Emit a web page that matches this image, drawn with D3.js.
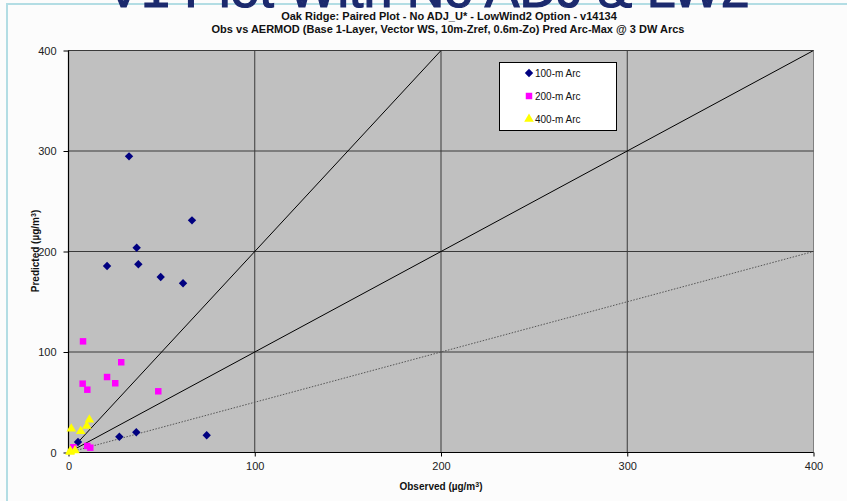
<!DOCTYPE html>
<html>
<head>
<meta charset="utf-8">
<script src="https://cdn.jsdelivr.net/npm/d3@7"></script>
<style>
  html, body { margin: 0; padding: 0; background: #fcfcfc; }
  svg { display: block; font-family: Arial, "Liberation Sans", sans-serif; }
</style>
</head>
<body>
<svg id="chart" width="847" height="501"></svg>
<script>
// Paired observed / predicted arc-maximum concentrations (µg/m³)
const seriesNames = ["100-m Arc", "200-m Arc", "400-m Arc"];
const arc100 = [
  [32.5, 294.7], [66.3, 231], [36.6, 203.8], [20.7, 185.6], [37.5, 187.3],
  [49.5, 174.6], [61.5, 168.4], [27.3, 15.7], [36.4, 20.1], [74.2, 17.1],
  [5.1, 10.4]
];
const arc200 = [
  [7.8, 110.6], [28.3, 89.8], [20.7, 75.1], [25.1, 68.9], [7.6, 68.5],
  [10.1, 62.5], [48.2, 60.9], [2.6, 5.2], [10.1, 6.5], [11.7, 4.8]
];
const arc400 = [
  [1.5, 23.7], [6.55, 21.1], [9.8, 26.4], [11.2, 32.6], [1.0, 1.5],
  [3.5, 2.0], [0.8, 0.5]
];
const tickValues = [0, 100, 200, 300, 400];
// reference lines: predicted = factor × observed
const refFactors = [1, 2, 0.5];

const svg = d3.select("#chart");
const W = 847, H = 501;
const plot = { left: 68.5, right: 813.5, top: 50.5, bottom: 452.5 };

// panel
svg.append("rect")
  .attr("x", 7).attr("y", 4).attr("width", W).attr("height", H)
  .attr("fill", "#fcfcfc")
  .attr("stroke", "#b3dde4").attr("stroke-width", 2);

// slide header, mostly above the visible area
svg.append("text")
  .attr("x", 428).attr("y", 7)
  .attr("text-anchor", "middle")
  .attr("font-size", 52)
  .attr("fill", "#1c2a6e")
  .attr("stroke", "#1c2a6e").attr("stroke-width", 1.2)
  .text("V1 Plot With No ADJ & LW2");

const x = d3.scaleLinear().domain([0, 400]).range([plot.left, plot.right]);
const y = d3.scaleLinear().domain([0, 400]).range([plot.bottom, plot.top]);

// titles
svg.append("text").attr("x", 449).attr("y", 20)
  .attr("text-anchor", "middle").attr("font-size", 11).attr("font-weight", "bold")
  .attr("fill", "#111")
  .text("Oak Ridge: Paired Plot - No ADJ_U* - LowWind2 Option - v14134");
svg.append("text").attr("x", 448).attr("y", 33)
  .attr("text-anchor", "middle").attr("font-size", 11).attr("font-weight", "bold")
  .attr("fill", "#111")
  .text("Obs vs AERMOD (Base 1-Layer, Vector WS, 10m-Zref, 0.6m-Zo) Pred Arc-Max @ 3 DW Arcs");

// plot area
svg.append("rect")
  .attr("x", plot.left).attr("y", plot.top)
  .attr("width", plot.right - plot.left).attr("height", plot.bottom - plot.top)
  .attr("fill", "#c0c0c0").attr("stroke", "#808080").attr("stroke-width", 1);

// grid
const grid = svg.append("g").attr("stroke", "#3a3a3a").attr("stroke-width", 1);
tickValues.filter(v => v > 0 && v < 400).forEach(v => {
  grid.append("line").attr("x1", x(v)).attr("x2", x(v)).attr("y1", plot.top).attr("y2", plot.bottom);
});
tickValues.filter(v => v > 0).forEach(v => {
  grid.append("line").attr("x1", plot.left).attr("x2", plot.right).attr("y1", y(v)).attr("y2", y(v));
});

// reference lines
const clipId = "plotclip";
svg.append("clipPath").attr("id", clipId).append("rect")
  .attr("x", plot.left).attr("y", plot.top)
  .attr("width", plot.right - plot.left).attr("height", plot.bottom - plot.top);
const refs = svg.append("g").attr("clip-path", `url(#${clipId})`);
refFactors.forEach(f => {
  const xEnd = Math.min(400, 400 / f);
  refs.append("line")
    .attr("x1", x(0)).attr("y1", y(0))
    .attr("x2", x(xEnd)).attr("y2", y(xEnd * f))
    .attr("stroke", f === 0.5 ? "#555" : "#000")
    .attr("stroke-width", 1)
    .attr("stroke-dasharray", f === 0.5 ? "1.5,1.5" : null);
});

// axes
const xAxis = d3.axisBottom(x).tickValues(tickValues).tickSize(4).tickPadding(6);
const yAxis = d3.axisLeft(y).tickValues(tickValues).tickSize(5).tickPadding(7);
const gx = svg.append("g").attr("transform", `translate(0,${plot.bottom})`).call(xAxis);
const gy = svg.append("g").attr("transform", `translate(${plot.left},0)`).call(yAxis);
[gx, gy].forEach(g => {
  g.select(".domain").attr("stroke", "#000").attr("stroke-width", 1.2);
  g.selectAll(".tick line").attr("stroke", "#000");
  g.selectAll(".tick text").attr("font-size", 11).attr("fill", "#222")
    .attr("font-family", "Arial, 'Liberation Sans', sans-serif");
});
gx.select(".domain").attr("d", `M${plot.left},0H${plot.right}`);
gy.select(".domain").attr("d", `M0,${plot.bottom}V${plot.top}`);

// axis titles
svg.append("text").attr("x", 441).attr("y", 490)
  .attr("text-anchor", "middle").attr("font-size", 10).attr("font-weight", "bold").attr("fill", "#111")
  .html("Observed (µg/m<tspan baseline-shift='super' font-size='7'>3</tspan>)");
svg.append("text")
  .attr("transform", "translate(39,251) rotate(-90)")
  .attr("text-anchor", "middle").attr("font-size", 10).attr("font-weight", "bold").attr("fill", "#111")
  .html("Predicted (µg/m<tspan baseline-shift='super' font-size='7'>3</tspan>)");

// markers: square-proportioned diamond, square, triangle
const diamondPath = "M0,-4.2L4.2,0L0,4.2L-4.2,0Z";
const symbols = [
  { path: diamondPath, fill: "#000080", data: arc100 },
  { path: d3.symbol().type(d3.symbolSquare).size(42)(), fill: "#ff00ff", data: arc200 },
  { path: d3.symbol().type(d3.symbolTriangle).size(40)(), fill: "#ffff00", data: arc400 }
];
symbols.forEach(s => {
  svg.append("g").selectAll("path").data(s.data).join("path")
    .attr("d", s.path)
    .attr("transform", d => `translate(${x(d[0])},${y(d[1])})`)
    .attr("fill", s.fill);
});

// legend
const lg = svg.append("g");
lg.append("rect").attr("x", 499.5).attr("y", 62.5).attr("width", 117).attr("height", 68)
  .attr("fill", "#fff").attr("stroke", "#000").attr("stroke-width", 1);
const legendY = [73, 96, 119];
symbols.forEach((s, i) => {
  lg.append("path")
    .attr("d", s.path)
    .attr("transform", `translate(529,${legendY[i]})`)
    .attr("fill", s.fill);
  lg.append("text").attr("x", 535).attr("y", legendY[i] + 3.5)
    .attr("font-size", 10).attr("fill", "#111").text(seriesNames[i]);
});
</script>
</body>
</html>
